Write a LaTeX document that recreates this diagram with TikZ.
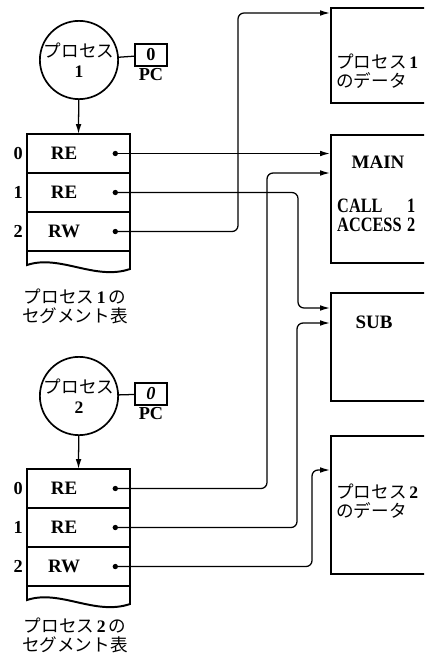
\documentclass[tikz,border=0pt]{standalone}
\usepackage{fontspec}
\setmainfont{Liberation Serif}
\newfontfamily\jpfont{Noto Sans CJK JP}
\usetikzlibrary{arrows.meta,positioning}

\begin{document}
\begin{tikzpicture}[
  x=0.025cm, y=-0.025cm,
  proc/.style={draw, circle, line width=1.2pt, minimum size=1.9cm, inner sep=0pt, align=center, font=\fontsize{12.5}{14}\selectfont},
  pcbox/.style={draw, line width=1.2pt, minimum width=0.8cm, minimum height=0.55cm, inner sep=0pt, font=\bfseries\fontsize{13}{13}\selectfont},
  segrow/.style={draw, line width=0.8pt, minimum width=2.575cm, minimum height=0.975cm, inner sep=0pt, outer sep=0pt},
  tblframe/.style={line width=1.4pt},
  segtxt/.style={font=\bfseries\fontsize{13.5}{14}\selectfont, inner sep=0pt},
  idx/.style={font=\bfseries\fontsize{13}{13}\selectfont, inner sep=0pt},
  segdot/.style={circle, fill, inner sep=0pt, minimum size=3.8pt},
  membox/.style={draw, line width=1.6pt, anchor=north west, minimum width=5cm, inner sep=0pt},
  jptxt/.style={font=\jpfont\fontsize{12.5}{13.5}\selectfont, inner sep=0pt},
  arr/.style={-{Latex[length=7pt,width=4pt]}, line width=0.9pt},
  conn/.style={arr, rounded corners=0.15cm}
]
  \useasboundingbox (0,0) rectangle (424,658);
  \clip (0,0) rectangle (424,658);

  \node[proc] (c1) at (79,60) {{\jpfont プロセス}\\\textbf{1}};
  \node[pcbox] (pc1) at (151,55) {0};
  \node[idx, below=1pt of pc1] (pc1l) {PC};
  \node[segrow] (t1r0) at (78.5,153.5) {};
  \node[segrow, below=0pt of t1r0] (t1r1) {};
  \node[segrow, below=0pt of t1r1] (t1r2) {};
  \draw[tblframe] (t1r0.north west) -- (t1r0.north east) -- (130,269) .. controls (95,281) and (60,254) .. (27,265) -- cycle;
  \node[segtxt] (t1e0) at ([xshift=-0.36cm]t1r0.center) {RE};
  \node[segtxt] (t1e1) at ([xshift=-0.36cm]t1r1.center) {RE};
  \node[segtxt] (t1e2) at ([xshift=-0.36cm]t1r2.center) {RW};
  \node[segdot] (t1d0) at ([xshift=0.92cm]t1r0.center) {};
  \node[segdot] (t1d1) at ([xshift=0.92cm]t1r1.center) {};
  \node[segdot] (t1d2) at ([xshift=0.92cm]t1r2.center) {};
  \node[idx, left=0.1cm of t1r0] (t1i0) {0};
  \node[idx, left=0.1cm of t1r1] (t1i1) {1};
  \node[idx, left=0.1cm of t1r2] (t1i2) {2};
  \node[jptxt, align=center] (t1cap) at (75,306) {プロセス\hspace{2pt}{\rmfamily\bfseries 1}\hspace{2pt}の\\セグメント表};

  \node[proc] (c2) at (79,396) {{\jpfont プロセス}\\\textbf{2}};
  \node[pcbox] (pc2) at (151,394) {\itshape 0};
  \node[idx, below=1pt of pc2] (pc2l) {PC};
  \node[segrow] (t2r0) at (78.5,488.5) {};
  \node[segrow, below=0pt of t2r0] (t2r1) {};
  \node[segrow, below=0pt of t2r1] (t2r2) {};
  \draw[tblframe] (t2r0.north west) -- (t2r0.north east) -- (130,604) .. controls (95,616) and (60,589) .. (27,600) -- cycle;
  \node[segtxt] (t2e0) at ([xshift=-0.36cm]t2r0.center) {RE};
  \node[segtxt] (t2e1) at ([xshift=-0.36cm]t2r1.center) {RE};
  \node[segtxt] (t2e2) at ([xshift=-0.36cm]t2r2.center) {RW};
  \node[segdot] (t2d0) at ([xshift=0.92cm]t2r0.center) {};
  \node[segdot] (t2d1) at ([xshift=0.92cm]t2r1.center) {};
  \node[segdot] (t2d2) at ([xshift=0.92cm]t2r2.center) {};
  \node[idx, left=0.1cm of t2r0] (t2i0) {0};
  \node[idx, left=0.1cm of t2r1] (t2i1) {1};
  \node[idx, left=0.1cm of t2r2] (t2i2) {2};
  \node[jptxt, align=center] (t2cap) at (75,635) {プロセス\hspace{2pt}{\rmfamily\bfseries 2}\hspace{2pt}の\\セグメント表};

  \node[membox, minimum height=2.375cm] (data1) at (330,7) {};
  \node[membox, minimum height=3.2cm] (main) at (330,134) {};
  \node[membox, minimum height=2.7cm] (sub) at (330,292) {};
  \node[membox, minimum height=3.45cm] (data2) at (330,435) {};
  \node[jptxt, anchor=west, align=left] (data1t) at (336,71) {プロセス\hspace{2pt}{\rmfamily\bfseries 1}\\のデータ};
  \node[segtxt] (maint) at (378,162) {MAIN};
  \node[anchor=west, inner sep=0pt, xscale=0.8, font=\bfseries\fontsize{14.5}{13.5}\selectfont] (mainc) at (337,218)
    {\begin{tabular}{@{}l@{\hspace{5pt}}l@{}}CALL & 1\\ACCESS & 2\end{tabular}};
  \node[segtxt] (subt) at (374,322) {SUB};
  \node[jptxt, anchor=west, align=left] (data2t) at (336,501) {プロセス\hspace{2pt}{\rmfamily\bfseries 2}\\のデータ};

  \coordinate (d1in) at (330,13);
  \coordinate (mainin) at (330,173);
  \coordinate (subin1) at (330,308);
  \coordinate (subin2) at (330,323);
  \coordinate (d2in) at (330,470);

  \draw[line width=0.9pt] (c1) -- (pc1);
  \draw[line width=0.9pt] (c2) -- (pc2);
  \draw[arr] (c1) -- (t1r0.north);
  \draw[arr] (c2) -- (t2r0.north);
  \draw[arr] (t1d0.center) -- (t1d0 -| main.west);
  \draw[conn] (t1d1.center) -| (298,0 |- subin1) -- (subin1);
  \draw[conn] (t1d2.center) -| (238,0 |- d1in) -- (d1in);
  \draw[conn] (t2d0.center) -| (267,0 |- mainin) -- (mainin);
  \draw[conn] (t2d1.center) -| (297,0 |- subin2) -- (subin2);
  \draw[conn] (t2d2.center) -| (312,0 |- d2in) -- (d2in);
\end{tikzpicture}
\end{document}
